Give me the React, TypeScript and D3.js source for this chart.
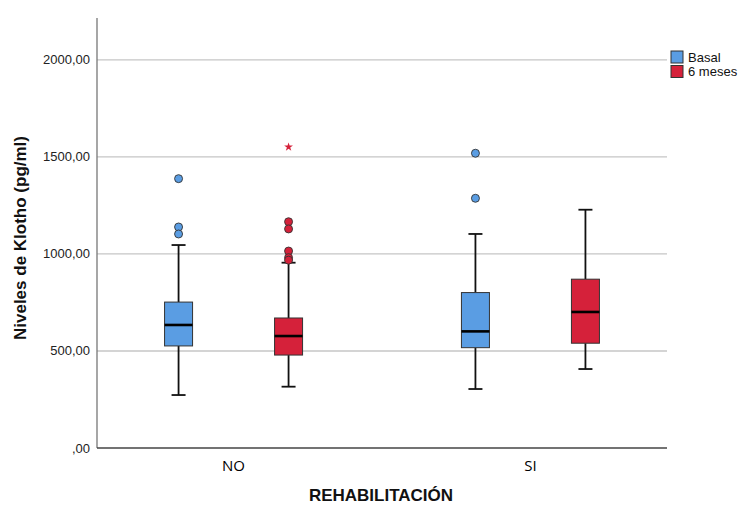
import React from 'react';
import * as d3 from 'd3';

// Box stats
const groups = ['NO', 'SI'];
const seriesNames = ['Basal', '6 meses'];
const seriesColors = ['#5a9de3', '#d5213a'];

interface BoxStat {
  group: string;
  series: string;
  min: number;
  q1: number;
  median: number;
  q3: number;
  max: number;
  outliers: number[];
  extremes: number[];
}

const boxes: BoxStat[] = [
  { group: 'NO', series: 'Basal', min: 273, q1: 526, median: 634, q3: 752, max: 1046, outliers: [1388, 1139, 1103], extremes: [] },
  { group: 'NO', series: '6 meses', min: 316, q1: 479, median: 577, q3: 670, max: 955, outliers: [1166, 1129, 1015, 981, 968], extremes: [1551] },
  { group: 'SI', series: 'Basal', min: 304, q1: 517, median: 601, q3: 801, max: 1103, outliers: [1519, 1287], extremes: [] },
  { group: 'SI', series: '6 meses', min: 407, q1: 540, median: 701, q3: 870, max: 1228, outliers: [], extremes: [] },
];

const yTicks = [0, 500, 1000, 1500, 2000];

const width = 750;
const height = 508;
const margin = { top: 18, right: 83, bottom: 60, left: 97 };

const fmt = (v: number) => (v === 0 ? ',00' : `${v},00`);

export default function App() {
  const x = d3.scalePoint<string>()
    .domain(groups)
    .range([margin.left, width - margin.right])
    .padding(0.46);
  const offset = d3.scalePoint<string>()
    .domain(seriesNames)
    .range([-55, 55]);
  const y = d3.scaleLinear()
    .domain([0, 2216])
    .range([height - margin.bottom, margin.top]);
  const color = d3.scaleOrdinal<string, string>().domain(seriesNames).range(seriesColors);

  const boxW = 28;
  const capW = 14;
  const star = d3.symbol().type(d3.symbolStar).size(24)();

  return (
    <svg width={width} height={height} style={{ position: 'absolute', left: 0, top: 0, background: '#fff' }}
      fontFamily="'Liberation Sans', Arial, sans-serif">
      {/* grid */}
      {yTicks.filter(t => t > 0).map(t => (
        <line key={t} x1={margin.left} x2={width - margin.right} y1={y(t)} y2={y(t)} stroke="#c6c6c6" strokeWidth={1.3} />
      ))}
      {/* axes */}
      <line x1={margin.left} x2={margin.left} y1={margin.top} y2={y(0)} stroke="#777" strokeWidth={1.3} />
      <line x1={margin.left} x2={width - margin.right} y1={y(0)} y2={y(0)} stroke="#444" strokeWidth={1.3} />
      {yTicks.map(t => (
        <text key={t} x={margin.left - 7} y={y(t) + 4.5} textAnchor="end" fontSize={13} fill="#222">{fmt(t)}</text>
      ))}
      {groups.map(g => (
        <text key={g} x={x(g)} y={471} textAnchor="middle" fontSize={15} fill="#000" fontFamily="'Open Sans', sans-serif">{g}</text>
      ))}
      <text x={381} y={501} textAnchor="middle" fontSize={17} fontWeight="bold" fill="#111">REHABILITACIÓN</text>
      <text transform={`translate(26,${238}) rotate(-90)`} textAnchor="middle" fontSize={17} fontWeight="bold" fill="#111">Niveles de Klotho (pg/ml)</text>

      {/* boxes */}
      {boxes.map(b => {
        const cx = (x(b.group) || 0) + (offset(b.series) || 0);
        const c = color(b.series);
        return (
          <g key={b.group + b.series}>
            <line x1={cx} x2={cx} y1={y(b.max)} y2={y(b.q3)} stroke="#111" strokeWidth={1.8} />
            <line x1={cx} x2={cx} y1={y(b.q1)} y2={y(b.min)} stroke="#111" strokeWidth={1.8} />
            <line x1={cx - capW / 2} x2={cx + capW / 2} y1={y(b.max)} y2={y(b.max)} stroke="#111" strokeWidth={1.8} />
            <line x1={cx - capW / 2} x2={cx + capW / 2} y1={y(b.min)} y2={y(b.min)} stroke="#111" strokeWidth={1.8} />
            <rect x={cx - boxW / 2} y={y(b.q3)} width={boxW} height={y(b.q1) - y(b.q3)} fill={c} stroke="#333" strokeWidth={1} />
            <line x1={cx - boxW / 2} x2={cx + boxW / 2} y1={y(b.median)} y2={y(b.median)} stroke="#000" strokeWidth={2.6} />
            {b.outliers.map((o, i) => (
              <circle key={i} cx={cx} cy={y(o)} r={4} fill={c} stroke="#333" strokeWidth={0.9} />
            ))}
            {b.extremes.map((o, i) => (
              <path key={i} d={star || ''} transform={`translate(${cx},${y(o)})`} fill={c} />
            ))}
          </g>
        );
      })}

      {/* legend */}
      {seriesNames.map((s, i) => (
        <g key={s} transform={`translate(671,${51 + i * 14.5})`}>
          <rect width={12} height={12} fill={color(s)} stroke="#333" strokeWidth={1} />
          <text x={17} y={10.5} fontSize={13} fill="#111">{s}</text>
        </g>
      ))}
    </svg>
  );
}
